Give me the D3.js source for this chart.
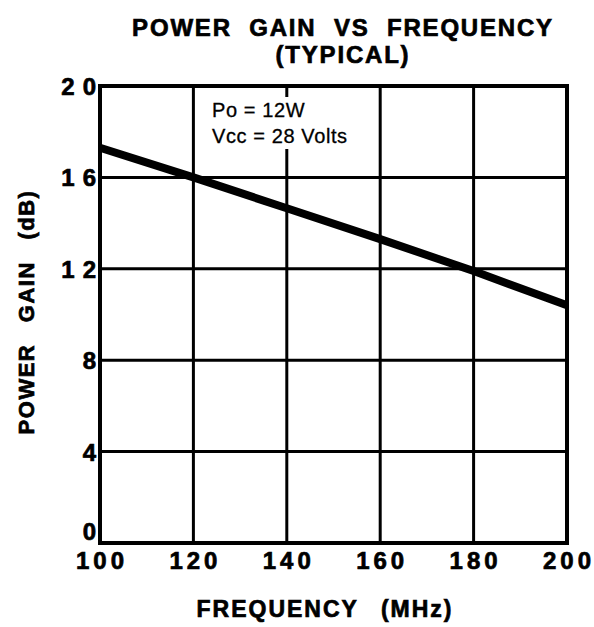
<!DOCTYPE html>
<html>
<head>
<meta charset="utf-8">
<script src="https://cdn.jsdelivr.net/npm/d3@7"></script>
<style>
	body { margin: 0; background: #fff; }
	svg { display: block; font-family: "Liberation Sans", Arial, sans-serif; }
	.heavy { font-weight: bold; stroke: #000; stroke-width: 0.7px; }
</style>
</head>
<body>
<svg width="594" height="627"></svg>
<script>
const freqTicks = [100, 120, 140, 160, 180, 200];
const gainTicks = [0, 4, 8, 12, 16, 20];
const freq = [100, 120, 140, 160, 180, 200];
const gain = [17.3, 16.0, 14.65, 13.3, 11.9, 10.4];
const notes = ["Po = 12W", "Vcc = 28 Volts"];

const plotLeft = 100, plotRight = 567, plotTop = 86, plotBottom = 543;
const svg = d3.select("svg");

const x = d3.scaleLinear().domain([100, 200]).range([plotLeft, plotRight]);
const y = d3.scaleLinear().domain([0, 20]).range([plotBottom, plotTop]);

// grid
svg.append("g")
	.selectAll("line")
	.data(freqTicks.slice(1, -1))
	.join("line")
	.attr("x1", d => x(d)).attr("x2", d => x(d))
	.attr("y1", plotTop).attr("y2", plotBottom)
	.attr("stroke", "#000").attr("stroke-width", 3);
svg.append("g")
	.selectAll("line")
	.data(gainTicks.slice(1, -1))
	.join("line")
	.attr("x1", plotLeft).attr("x2", plotRight)
	.attr("y1", d => y(d)).attr("y2", d => y(d))
	.attr("stroke", "#000").attr("stroke-width", 3);

// frame
svg.append("rect")
	.attr("x", plotLeft).attr("y", plotTop)
	.attr("width", plotRight - plotLeft).attr("height", plotBottom - plotTop)
	.attr("fill", "none").attr("stroke", "#000").attr("stroke-width", 4);

// curve
const line = d3.line().x((d, i) => x(freq[i])).y(d => y(d));
svg.append("path")
	.datum(gain)
	.attr("d", line)
	.attr("fill", "none")
	.attr("stroke", "#000")
	.attr("stroke-width", 8);

// x tick labels
svg.append("g")
	.selectAll("text")
	.data(freqTicks)
	.join("text")
	.attr("class", "heavy")
	.attr("x", d => x(d) + 2)
	.attr("y", 569)
	.attr("text-anchor", "middle")
	.attr("font-size", 24)
	.attr("letter-spacing", 4)
	.text(d => d);

// y tick labels
svg.append("g")
	.selectAll("text")
	.data(gainTicks)
	.join("text")
	.attr("class", "heavy")
	.attr("x", 104)
	.attr("y", d => y(d) + 9 - (d === 0 ? 12 : 0))
	.attr("text-anchor", "end")
	.attr("font-size", 24)
	.attr("letter-spacing", 8)
	.text(d => d);

// titles
svg.append("text")
	.attr("class", "heavy")
	.attr("x", 343).attr("y", 36)
	.attr("text-anchor", "middle")
	.attr("font-size", 24)
	.attr("letter-spacing", 1.8).attr("word-spacing", 9)
	.text("POWER GAIN VS FREQUENCY");
svg.append("text")
	.attr("class", "heavy")
	.attr("x", 343).attr("y", 63)
	.attr("text-anchor", "middle")
	.attr("font-size", 24)
	.attr("letter-spacing", 1.8)
	.text("(TYPICAL)");

svg.append("text")
	.attr("class", "heavy")
	.attr("x", 325).attr("y", 617)
	.attr("text-anchor", "middle")
	.attr("font-size", 23)
	.attr("letter-spacing", 2).attr("word-spacing", 14)
	.text("FREQUENCY (MHz)");

svg.append("text")
	.attr("class", "heavy")
	.attr("transform", "translate(34,312) rotate(-90)")
	.attr("text-anchor", "middle")
	.attr("font-size", 22)
	.attr("letter-spacing", 1.5).attr("word-spacing", 14)
	.text("POWER GAIN (dB)");

// annotation with white backing
const noteBox = svg.append("rect").attr("fill", "#fff");
const noteText = svg.append("g");
noteText.selectAll("text")
	.data(notes)
	.join("text")
	.attr("x", 212)
	.attr("y", (d, i) => 117 + i * 26)
	.attr("font-size", 20)
	.attr("letter-spacing", 0.6)
	.attr("stroke", "#000").attr("stroke-width", 0.3)
	.text(d => d);
const bb = noteText.node().getBBox();
noteBox.attr("x", bb.x - 3).attr("y", bb.y - 2)
	.attr("width", bb.width + 6).attr("height", bb.height + 4);
</script>
</body>
</html>
